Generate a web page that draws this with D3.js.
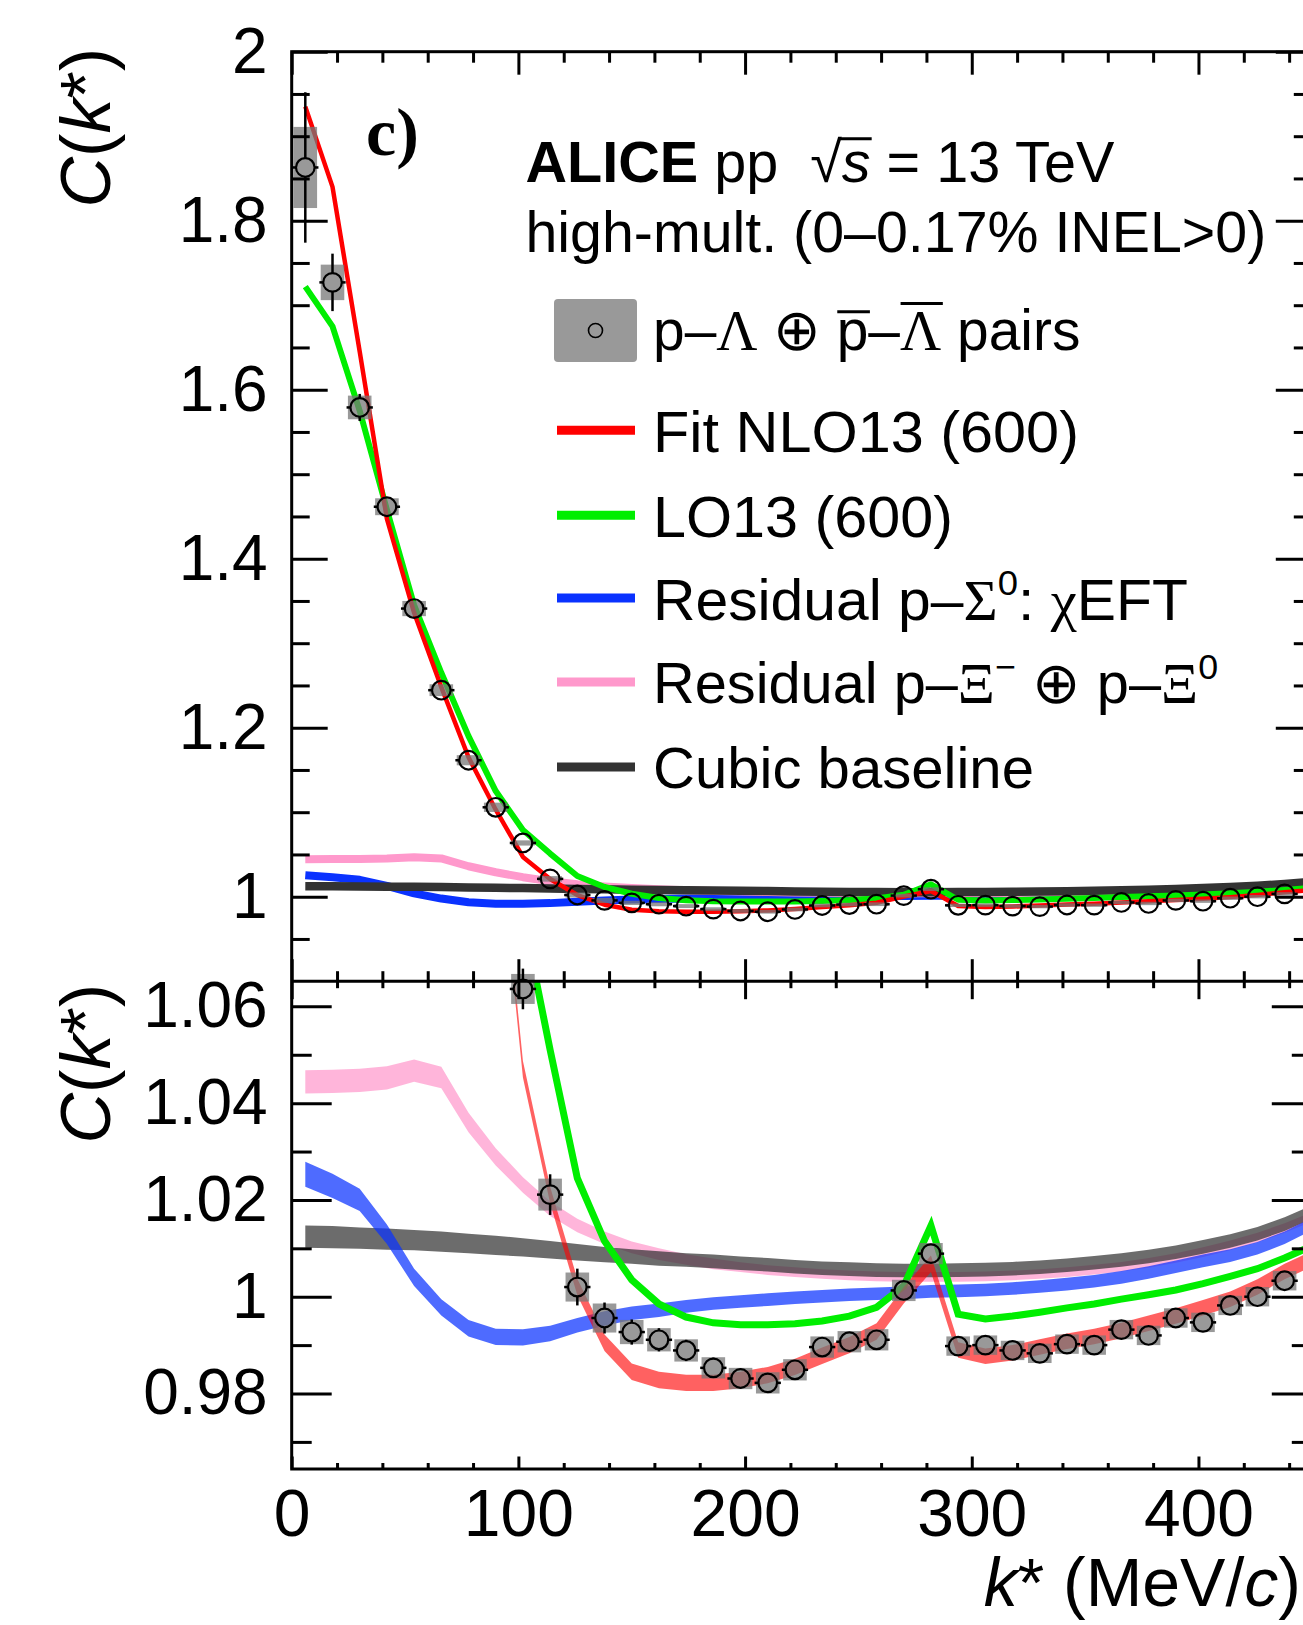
<!DOCTYPE html>
<html>
<head>
<meta charset="utf-8">
<script src="https://cdn.jsdelivr.net/npm/d3@7"></script>
<style>
  html, body { margin: 0; padding: 0; background: #fff; }
  svg { display: block; }
  text { fill: #000; }
</style>
</head>
<body>
<svg id="chart" width="1303" height="1625"></svg>
<script>
// ---- bin centres of k* (MeV/c) ----
const kStar = [6,18,30,42,54,66,78,90,102,114,126,138,150,162,174,186,198,210,222,234,246,258,
               270,282,294,306,318,330,342,354,366,378,390,402,414,426,438,450];

// ---- measured p–Λ ⊕ p̄–Λ̄ correlation ----
const pairsC = [1.863,1.727,1.579,1.4615,1.341,1.2444,1.1615,1.1058,1.0636,1.0211,1.0020,0.9956,
                0.9927,0.9911,0.9889,0.9853,0.9831,0.9822,0.9849,0.9896,0.9907,0.9911,1.0013,1.0089,
                0.9898,0.9900,0.9889,0.9883,0.9902,0.9900,0.9932,0.9920,0.9956,0.9947,0.9982,1.0000,1.0033,1.0058];
const statErr = [0.089,0.034,0.016,0.010,0.008,0.007,0.006,0.005,0.0042,0.0042,0.0038,0.0032,
                 0.0026,0.0024,0.0022,0.0021,0.0020,0.0020,0.0019,0.0019,0.0018,0.0018,0.0018,0.0018,
                 0.0017,0.0017,0.0017,0.0017,0.0017,0.0017,0.0016,0.0016,0.0016,0.0016,0.0016,0.0016,0.0016,0.0016];
const systErr = [0.048,0.021,0.014,0.010,0.009,0.007,0.006,0.0055,0.0031,0.0033,0.0030,0.0030,
                 0.0025,0.0024,0.0023,0.0022,0.0022,0.0022,0.0022,0.0022,0.0022,0.0022,0.0022,0.0022,
                 0.0020,0.0020,0.0020,0.0020,0.0020,0.0020,0.0020,0.0020,0.0020,0.0020,0.0020,0.0020,0.0020,0.0020];

// ---- model curves evaluated at the bin centres ----
const fitNLO13 = [1.935,1.840,1.645,1.447,1.336,1.248,1.165,1.103,1.047,1.021,1.002,0.9905,
                  0.9845,0.9828,0.9822,0.9822,0.9828,0.9838,0.9855,0.9878,0.9900,0.9928,1.0003,1.0068,
                  0.9890,0.9877,0.9884,0.9896,0.9908,0.9918,0.9930,0.9945,0.9960,0.9977,0.9995,1.0020,1.0052,1.0078];
const lo13 = [1.722,1.675,1.575,1.458,1.345,1.265,1.190,1.125,1.079,1.051,1.0245,1.0115,
              1.0035,0.9985,0.9958,0.9946,0.9942,0.9942,0.9944,0.9950,0.9960,0.9978,1.0022,1.0147,
              0.9964,0.9954,0.9960,0.9968,0.9977,0.9985,0.9995,1.0004,1.0014,1.0027,1.0042,1.0058,1.0080,1.0105];
const residualSigma0 = [1.0253,1.0229,1.0200,1.0129,1.0040,0.9978,0.9935,0.9917,0.9916,0.9924,0.9941,0.9955,
                        0.9966,0.9972,0.9980,0.9986,0.9990,0.9994,0.9998,1.0001,1.0004,1.0006,1.0008,1.0011,
                        1.0012,1.0014,1.0017,1.0021,1.0026,1.0032,1.0040,1.0050,1.0062,1.0074,1.0085,1.0100,1.0122,1.0150];
const residualXi = [1.0444,1.0445,1.0447,1.0452,1.0467,1.0453,1.0360,1.0289,1.0231,1.0182,1.0147,1.0122,
                    1.0102,1.0088,1.0077,1.0068,1.0061,1.0055,1.0051,1.0047,1.0044,1.0042,1.0041,1.0041,
                    1.0041,1.0042,1.0044,1.0047,1.0051,1.0056,1.0062,1.0070,1.0080,1.0092,1.0106,1.0122,1.0142,1.0165];
const cubicBaseline = [1.0124,1.0123,1.0121,1.0119,1.0117,1.0114,1.0110,1.0106,1.0102,1.0097,1.0092,1.0087,
                       1.0083,1.0079,1.0076,1.0073,1.0069,1.0066,1.0062,1.0059,1.0057,1.0055,1.0054,1.0054,
                       1.0055,1.0056,1.0058,1.0061,1.0065,1.0070,1.0076,1.0083,1.0092,1.0103,1.0115,1.0130,1.0150,1.0175];

// ---- half-widths of the uncertainty bands ----
const fitNLO13Band = [0.0017,0.0017,0.0017,0.0017,0.0017,0.0017,0.0017,0.0017,0.0017,0.0017,0.0017,0.0017,
                      0.0017,0.0017,0.0017,0.0017,0.0017,0.0017,0.0017,0.0017,0.0017,0.0017,0.0017,0.0017,
                      0.0016,0.0016,0.0016,0.0016,0.0016,0.0016,0.0016,0.0016,0.0016,0.0016,0.0016,0.0016,0.0016,0.0016];
const residualSigma0Band = [0.0026,0.0025,0.0023,0.0020,0.0018,0.0017,0.0017,0.0017,0.0017,0.0016,0.0015,0.0015,
                            0.0014,0.0014,0.0013,0.0013,0.0013,0.0013,0.0013,0.0013,0.0013,0.0013,0.0013,0.0013,
                            0.0013,0.0013,0.0013,0.0013,0.0013,0.0013,0.0013,0.0013,0.0013,0.0013,0.0013,0.0013,0.0013,0.0013];
const residualXiBand = [0.0024,0.0024,0.0024,0.0024,0.0023,0.0022,0.0020,0.0018,0.0016,0.0015,0.0014,0.0013,
                        0.0012,0.0012,0.0011,0.0011,0.0010,0.0010,0.0010,0.0010,0.0010,0.0010,0.0010,0.0010,
                        0.0010,0.0010,0.0010,0.0010,0.0010,0.0010,0.0010,0.0010,0.0010,0.0010,0.0010,0.0010,0.0010,0.0010];
const cubicBaselineBand = [0.0023,0.0023,0.0022,0.0022,0.0021,0.0021,0.0020,0.0020,0.0019,0.0018,0.0017,0.0016,
                           0.0015,0.0015,0.0014,0.0014,0.0014,0.0014,0.0014,0.0014,0.0014,0.0014,0.0014,0.0014,
                           0.0014,0.0014,0.0014,0.0014,0.0014,0.0014,0.0014,0.0014,0.0014,0.0014,0.0014,0.0014,0.0014,0.0014];

// ---- axis ticks and labels ----
const xTickValues = [0,100,200,300,400];
const xTickLabels = ["0","100","200","300","400"];
const yTopTickValues = [1.0,1.2,1.4,1.6,1.8,2.0];
const yTopTickLabels = ["1","1.2","1.4","1.6","1.8","2"];
const yBotTickValues = [0.98,1.00,1.02,1.04,1.06];
const yBotTickLabels = ["0.98","1","1.02","1.04","1.06"];

// ---- styles ----
const COL = { red: "#ff0000", green: "#00ee00", blue: "#0a32ff", pink: "#ff99cc", gray: "#333333" };
const SANS = '"Liberation Sans", Arial, Helvetica, sans-serif';
const SERIF = '"Liberation Serif", "Times New Roman", serif';

const svg = d3.select("#chart").style("font-family", SANS);
const x = d3.scaleLinear().domain([0, 450]).range([291.7, 1311.8]);
const yTop = d3.scaleLinear().domain([0.9, 2.0]).range([981.2, 51.7]);
const yBot = d3.scaleLinear().domain([0.9644, 1.0652]).range([1469, 981.2]);

const defs = svg.append("defs");
defs.append("clipPath").attr("id", "clipTop").append("rect")
  .attr("x", x(0)).attr("y", yTop(2.0)).attr("width", x(450) - x(0)).attr("height", yTop(0.9) - yTop(2.0));
defs.append("clipPath").attr("id", "clipBot").append("rect")
  .attr("x", x(0)).attr("y", yBot(1.0652)).attr("width", x(450) - x(0)).attr("height", yBot(0.9644) - yBot(1.0652));

// ---------- top panel: curves as lines ----------
const gTopCurves = svg.append("g").attr("clip-path", "url(#clipTop)");
const lineTop = d3.line().x((d, i) => x(kStar[i])).y(d => yTop(d));
[
  [residualSigma0, COL.blue, 8],
  [residualXi, COL.pink, 8],
  [cubicBaseline, COL.gray, 8.5],
  [lo13, COL.green, 6],
  [fitNLO13, COL.red, 4.5]
].forEach(([vals, c, w]) => {
  gTopCurves.append("path").datum(vals).attr("d", lineTop)
    .attr("fill", "none").attr("stroke", c).attr("stroke-width", w).attr("stroke-linejoin", "round");
});

// ---------- bottom panel: curves as bands ----------
const gBotCurves = svg.append("g").attr("clip-path", "url(#clipBot)");
function band(vals, hw) {
  return d3.area()
    .x((d, i) => x(kStar[i]))
    .y0((d, i) => yBot(d - hw[i]))
    .y1((d, i) => yBot(d + hw[i]))(vals);
}
[
  [residualXi, residualXiBand, COL.pink, 0.72],
  [cubicBaseline, cubicBaselineBand, COL.gray, 0.72],
  [residualSigma0, residualSigma0Band, COL.blue, 0.72]
].forEach(([vals, hw, c, op]) => {
  gBotCurves.append("path").attr("d", band(vals, hw)).attr("fill", c).attr("fill-opacity", op);
});
// LO13 as a plain line
gBotCurves.append("path").datum(lo13)
  .attr("d", d3.line().x((d, i) => x(kStar[i])).y(d => yBot(d)))
  .attr("fill", "none").attr("stroke", COL.green).attr("stroke-width", 7).attr("stroke-miterlimit", 10);
gBotCurves.append("path").attr("d", band(fitNLO13, fitNLO13Band)).attr("fill", COL.red).attr("fill-opacity", 0.62);

// ---------- data points ----------
function drawPoints(yScale, lo, hi) {
  const g = svg.append("g");
  const idx = kStar.map((k, i) => i).filter(i => pairsC[i] >= lo && pairsC[i] <= hi && kStar[i] < 448);
  const r = 9.3;
  g.selectAll("rect.syst").data(idx).join("rect").attr("class", "syst")
    .attr("x", i => x(kStar[i] - 5.2)).attr("width", i => x(kStar[i] + 5.2) - x(kStar[i] - 5.2))
    .attr("y", i => yScale(pairsC[i] + systErr[i]))
    .attr("height", i => yScale(pairsC[i] - systErr[i]) - yScale(pairsC[i] + systErr[i]))
    .attr("fill", "#777").attr("fill-opacity", 0.75);
  idx.forEach(i => {
    const cx = x(kStar[i]), cy = yScale(pairsC[i]);
    const yU = yScale(pairsC[i] + statErr[i]), yD = yScale(pairsC[i] - statErr[i]);
    if (cy - yU > r) g.append("line").attr("x1", cx).attr("x2", cx).attr("y1", yU).attr("y2", cy - r)
      .attr("stroke", "#000").attr("stroke-width", 2.5);
    if (yD - cy > r) g.append("line").attr("x1", cx).attr("x2", cx).attr("y1", cy + r).attr("y2", yD)
      .attr("stroke", "#000").attr("stroke-width", 2.5);
    g.append("line").attr("x1", x(kStar[i] - 5.8)).attr("x2", cx - r).attr("y1", cy).attr("y2", cy)
      .attr("stroke", "#000").attr("stroke-width", 2.5);
    g.append("line").attr("x1", cx + r).attr("x2", x(kStar[i] + 5.8)).attr("y1", cy).attr("y2", cy)
      .attr("stroke", "#000").attr("stroke-width", 2.5);
  });
  g.selectAll("circle").data(idx).join("circle")
    .attr("cx", i => x(kStar[i])).attr("cy", i => yScale(pairsC[i])).attr("r", r)
    .attr("fill", "none").attr("stroke", "#000").attr("stroke-width", 2.2);
}
drawPoints(yTop, 0.9, 2.0);
drawPoints(yBot, 0.9644, 1.0652);

// ---------- axes ----------
function styleAxis(g) {
  g.select(".domain").remove();
  g.attr("font-family", null);
  g.selectAll(".tick line").attr("stroke", "#000").attr("stroke-width", 3);
}
const minorTop = d3.range(0.95, 2.0, 0.05).map(v => +v.toFixed(2)).filter(v => Math.abs(v * 5 - Math.round(v * 5)) > 1e-6);
const minorBot = [0.97, 0.99, 1.01, 1.03, 1.05];
const minorX = d3.range(20, 450, 20).filter(v => v % 100 !== 0);
const frameR = x(450);

svg.append("g").attr("transform", `translate(${x(0)},0)`)
  .call(d3.axisLeft(yTop).tickValues(yTopTickValues).tickSize(-36).tickPadding(24)
    .tickFormat((d, i) => yTopTickLabels[i]))
  .call(styleAxis).selectAll("text").attr("font-size", 64).attr("fill", "#000");
svg.append("g").attr("transform", `translate(${x(0)},0)`)
  .call(d3.axisLeft(yTop).tickValues(minorTop).tickSize(-18).tickFormat("")).call(styleAxis);
svg.append("g").attr("transform", `translate(${x(0)},0)`)
  .call(d3.axisLeft(yBot).tickValues(yBotTickValues).tickSize(-40).tickPadding(24)
    .tickFormat((d, i) => yBotTickLabels[i]))
  .call(styleAxis).selectAll("text").attr("font-size", 64).attr("fill", "#000");
svg.append("g").attr("transform", `translate(${x(0)},0)`)
  .call(d3.axisLeft(yBot).tickValues(minorBot).tickSize(-20).tickFormat("")).call(styleAxis);

svg.append("g").attr("transform", `translate(${frameR},0)`)
  .call(d3.axisRight(yTop).tickValues(yTopTickValues).tickSize(-36).tickFormat("")).call(styleAxis);
svg.append("g").attr("transform", `translate(${frameR},0)`)
  .call(d3.axisRight(yTop).tickValues(minorTop).tickSize(-18).tickFormat("")).call(styleAxis);
svg.append("g").attr("transform", `translate(${frameR},0)`)
  .call(d3.axisRight(yBot).tickValues(yBotTickValues).tickSize(-40).tickFormat("")).call(styleAxis);
svg.append("g").attr("transform", `translate(${frameR},0)`)
  .call(d3.axisRight(yBot).tickValues(minorBot).tickSize(-20).tickFormat("")).call(styleAxis);

function xAxisTicks(yPos, dir, majorLen, minorLen) {
  const mk = dir === "down" ? d3.axisTop : d3.axisBottom;
  svg.append("g").attr("transform", `translate(0,${yPos})`)
    .call(mk(x).tickValues(xTickValues).tickSize(-majorLen).tickFormat("")).call(styleAxis);
  svg.append("g").attr("transform", `translate(0,${yPos})`)
    .call(mk(x).tickValues(minorX).tickSize(-minorLen).tickFormat("")).call(styleAxis);
}
xAxisTicks(yTop(2.0), "down", 23, 11);
xAxisTicks(yTop(0.9), "up", 22, 10);
xAxisTicks(yTop(0.9), "down", 18, 7);
svg.append("g").attr("transform", `translate(0,${yBot(0.9644)})`)
  .call(d3.axisBottom(x).tickValues(xTickValues).tickSize(-12.5).tickPadding(20)
    .tickFormat((d, i) => xTickLabels[i]))
  .call(styleAxis).selectAll("text").attr("font-size", 66).attr("fill", "#000");
svg.append("g").attr("transform", `translate(0,${yBot(0.9644)})`)
  .call(d3.axisBottom(x).tickValues(minorX).tickSize(-6).tickFormat("")).call(styleAxis);

const frame = svg.append("g").attr("stroke", "#000").attr("stroke-width", 3).attr("fill", "none");
frame.append("rect").attr("x", x(0)).attr("y", yTop(2.0)).attr("width", frameR - x(0)).attr("height", yBot(0.9644) - yTop(2.0));
frame.append("line").attr("x1", x(0)).attr("x2", frameR).attr("y1", yTop(0.9)).attr("y2", yTop(0.9));

// ---------- text helpers ----------
// parts: {t, serif, bold, italic, sup, bar: height of an overbar in em}
function richText(parent, xPos, yPos, size, parts, targetWidth) {
  const g = parent.append("g");
  const t = g.append("text").attr("x", xPos).attr("y", yPos).attr("font-size", size)
    .style("white-space", "pre");
  let shift = 0, idx = 0;
  const bars = [];
  parts.forEach(p => {
    const ts = t.append("tspan").text(p.t);
    if (p.serif) ts.style("font-family", SERIF);
    if (p.bold) ts.attr("font-weight", "bold");
    if (p.italic) ts.attr("font-style", "italic");
    const want = p.sup ? -0.42 * size : 0;
    if (want !== shift) { ts.attr("dy", want - shift); shift = want; }
    if (p.sup) ts.attr("font-size", size * 0.62);
    if (p.bar) bars.push({ from: idx, to: idx + p.t.length - 1, h: p.bar, pad: p.pad || 0 });
    idx += p.t.length;
  });
  const node = t.node();
  bars.forEach(b => {
    const x1 = node.getStartPositionOfChar(b.from).x - b.pad;
    const x2 = node.getEndPositionOfChar(b.to).x + 1;
    g.append("line").attr("x1", x1).attr("x2", x2)
      .attr("y1", yPos - b.h * size).attr("y2", yPos - b.h * size)
      .attr("stroke", "#000").attr("stroke-width", 3);
  });
  if (targetWidth) {
    const w = node.getBBox().width;
    const s = targetWidth / w;
    g.attr("transform", `translate(${xPos * (1 - s)},0) scale(${s},1)`);
  }
  return g;
}

// axis titles
const yTitle = (yEnd) => svg.append("text").attr("transform", `translate(110,${yEnd}) rotate(-90)`)
  .attr("text-anchor", "end").attr("font-size", 70)
  .call(t => {
    t.append("tspan").attr("font-style", "italic").text("C");
    t.append("tspan").text("(");
    t.append("tspan").attr("font-style", "italic").text("k");
    t.append("tspan").text("*)");
  });
yTitle(48);
yTitle(984);

svg.append("text").attr("x", 1301).attr("y", 1606).attr("font-size", 68).attr("text-anchor", "end")
  .call(t => {
    t.append("tspan").attr("font-style", "italic").text("k");
    t.append("tspan").text("* (MeV/");
    t.append("tspan").attr("font-style", "italic").text("c");
    t.append("tspan").text(")");
  });

// panel tag
svg.append("text").attr("x", 366).attr("y", 155).attr("font-size", 68)
  .style("font-family", SERIF).attr("font-weight", "bold").text("c)");

// header
richText(svg, 525.5, 182, 57, [
  { t: "ALICE", bold: true }, { t: " pp  " }, { t: "√" },
  { t: "s", italic: true, bar: 0.76, pad: 2 }, { t: " = 13 TeV" }
], 589);
richText(svg, 525.5, 252, 57, [{ t: "high-mult. (0–0.17% INEL>0)" }], 741);

// ---------- legend ----------
const leg = svg.append("g");
leg.append("rect").attr("x", 554).attr("y", 299).attr("width", 83).attr("height", 63).attr("rx", 4)
  .attr("fill", "#999");
leg.append("circle").attr("cx", 595.5).attr("cy", 330.5).attr("r", 7)
  .attr("fill", "none").attr("stroke", "#000").attr("stroke-width", 1.6);
richText(leg, 653, 350, 58, [
  { t: "p–" }, { t: "Λ", serif: true }, { t: " ⊕ " }, { t: "p", bar: 0.66 }, { t: "–" },
  { t: "Λ", serif: true, bar: 0.80 }, { t: " pairs" }
], 428);

const legendRows = [
  { y: 430.2, color: COL.red, parts: [{ t: "Fit NLO13 (600)" }], w: 426 },
  { y: 515.2, color: COL.green, parts: [{ t: "LO13 (600)" }], w: 300 },
  { y: 598.1, color: COL.blue, parts: [{ t: "Residual p–" }, { t: "Σ", serif: true }, { t: "0", sup: true },
      { t: ": " }, { t: "χ", serif: true }, { t: "EFT" }], w: 535 },
  { y: 682.0, color: COL.pink, parts: [{ t: "Residual p–" }, { t: "Ξ", serif: true }, { t: "−", sup: true },
      { t: " ⊕ p–" }, { t: "Ξ", serif: true }, { t: "0", sup: true }], w: 565 },
  { y: 767.0, color: COL.gray, parts: [{ t: "Cubic baseline" }], w: 381 }
];
legendRows.forEach(r => {
  leg.append("line").attr("x1", 557).attr("x2", 635).attr("y1", r.y).attr("y2", r.y)
    .attr("stroke", r.color).attr("stroke-width", 9);
  richText(leg, 653, r.y + 21.5, 58, r.parts, r.w);
});
</script>
</body>
</html>
